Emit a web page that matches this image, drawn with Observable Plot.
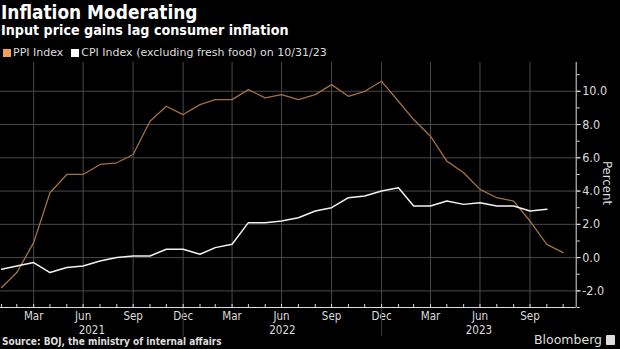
<!DOCTYPE html>
<html>
<head>
<meta charset="utf-8">
<script src="https://cdn.jsdelivr.net/npm/d3@7"></script>
<script src="https://cdn.jsdelivr.net/npm/@observablehq/plot@0.6"></script>
<style>
  html, body { margin: 0; padding: 0; background: #000; }
  #wrap { position: relative; width: 620px; height: 349px; overflow: hidden; background: #000; color: #fff; font-family: "DejaVu Sans", sans-serif; }
  .cond { font-family: "DejaVu Sans Condensed", "DejaVu Sans", sans-serif; font-stretch: condensed; }
  #title { position: absolute; left: 1px; top: 1px; font-size: 18.9px; font-weight: bold; white-space: nowrap; }
  #subtitle { position: absolute; left: 1px; top: 22px; font-size: 14.2px; font-weight: bold; white-space: nowrap; }
  #legend { position: absolute; left: 3px; top: 46px; font-size: 11px; color: #ddd; white-space: nowrap; display: flex; align-items: center; }
  .sw { display: inline-block; width: 8px; height: 8px; margin-right: 2px; }
  .item { display: inline-flex; align-items: center; margin-right: 8px; }
  #chart { position: absolute; left: 0; top: 58px; }
  #ylabel { position: absolute; left: 607px; top: 183px; font-size: 13px; color: #ddd; transform: translate(-50%, -50%) rotate(90deg); white-space: nowrap; }
  #source { position: absolute; left: 2px; top: 336px; font-size: 10px; font-weight: bold; color: #ddd; white-space: nowrap; }
  #brand { position: absolute; right: 5px; top: 332px; font-size: 12.5px; color: #ddd; white-space: nowrap; display: flex; align-items: center; }
  #brand .logo { display: inline-block; width: 9px; height: 10px; background: #ddd; margin-left: 4px; border-radius: 1px; }
</style>
</head>
<body>
<div id="wrap">
  <div id="title" class="cond">Inflation Moderating</div>
  <div id="subtitle" class="cond">Input price gains lag consumer inflation</div>
  <div id="legend"></div>
  <div id="chart"></div>
  <div id="ylabel" class="cond">Percent</div>
  <div id="source" class="cond">Source: BOJ, the ministry of internal affairs</div>
  <div id="brand">Bloomberg<span class="logo"></span></div>
</div>
<script>
// ---- data ----
const ppiMonths = ["2021-01","2021-02","2021-03","2021-04","2021-05","2021-06","2021-07","2021-08","2021-09","2021-10","2021-11","2021-12",
  "2022-01","2022-02","2022-03","2022-04","2022-05","2022-06","2022-07","2022-08","2022-09","2022-10","2022-11","2022-12",
  "2023-01","2023-02","2023-03","2023-04","2023-05","2023-06","2023-07","2023-08","2023-09","2023-10","2023-11"];
const ppiValues = [-1.8, -0.9, 0.9, 3.9, 5.0, 5.0, 5.6, 5.7, 6.2, 8.2, 9.1, 8.6,
  9.2, 9.5, 9.5, 10.1, 9.6, 9.8, 9.5, 9.8, 10.4, 9.7, 10.0, 10.6,
  9.4, 8.3, 7.3, 5.8, 5.1, 4.1, 3.6, 3.4, 2.2, 0.8, 0.3];
const cpiMonths = ppiMonths.slice(0, 34);
const cpiValues = [-0.7, -0.5, -0.3, -0.9, -0.6, -0.5, -0.2, 0.0, 0.1, 0.1, 0.5, 0.5,
  0.2, 0.6, 0.8, 2.1, 2.1, 2.2, 2.4, 2.8, 3.0, 3.6, 3.7, 4.0,
  4.2, 3.1, 3.1, 3.4, 3.2, 3.3, 3.1, 3.1, 2.8, 2.9];
const seriesNames = ["PPI Index", "CPI Index (excluding fresh food) on 10/31/23"];
const seriesColors = ["#a4713f", "#f2f2f2"];
const legendColors = ["#f5a050", "#ffffff"];
const yTicks = [-2, 0, 2, 4, 6, 8, 10];
const xStart = "2021-01-29", xEnd = "2023-12-24";
const yMin = -3, yMax = 11.73;

// month-end dates
const monthEnd = m => d3.utcDay.offset(d3.utcMonth.offset(new Date(m + "-01T00:00:00Z"), 1), -1);
const ppi = ppiMonths.map((m, i) => ({date: monthEnd(m), value: ppiValues[i], series: seriesNames[0]}));
const cpi = cpiMonths.map((m, i) => ({date: monthEnd(m), value: cpiValues[i], series: seriesNames[1]}));

const d0 = new Date(xStart + "T00:00:00Z"), d1 = new Date(xEnd + "T00:00:00Z");
const allMonthEnds = d3.utcMonth.range(d3.utcMonth.floor(d0), d1).map(d => d3.utcDay.offset(d3.utcMonth.offset(d, 1), -1)).filter(d => d >= d0 && d <= d1);
const quarterEnds = allMonthEnds.filter(d => [2, 5, 8, 11].includes(d.getUTCMonth()));
const yearEnds = allMonthEnds.filter(d => d.getUTCMonth() === 11);
const years = [2021, 2022, 2023];
const yearLabels = years.map(y => {
  const a = Math.max(+d0, +new Date(Date.UTC(y - 1, 11, 31)));
  const b = Math.min(+d1, +new Date(Date.UTC(y, 11, 31)));
  return {date: new Date((a + b) / 2), text: String(y)};
});

// legend
const legend = document.getElementById("legend");
seriesNames.forEach((n, i) => {
  const s = document.createElement("span");
  s.className = "item";
  s.innerHTML = `<span class="sw" style="background:${legendColors[i]}"></span>${n}`;
  legend.appendChild(s);
});

const axisColor = "#dcdcdc";
const fontCond = "DejaVu Sans Condensed, DejaVu Sans, sans-serif";
const chart = Plot.plot({
  width: 620,
  height: 278,
  marginLeft: 0,
  marginRight: 44.3,
  marginTop: 4,
  marginBottom: 29,
  style: {background: "#000", color: axisColor, fontFamily: fontCond, fontSize: "11px", fontStretch: "condensed"},
  x: {type: "utc", domain: [d0, d1]},
  y: {domain: [yMin, yMax]},
  marks: [
    Plot.gridY(yTicks, {stroke: "#4a4a4a", strokeOpacity: 1}),
    Plot.gridX(quarterEnds, {stroke: "#4a4a4a", strokeOpacity: 1}),
    Plot.axisY(d3.range(-3, 12, 1), {anchor: "right", tickSize: 3, text: null, stroke: axisColor, label: null}),
    Plot.axisY(yTicks, {anchor: "right", tickSize: 4, tickPadding: 2, tickFormat: d => d.toFixed(1), fill: axisColor, stroke: axisColor, label: null, fontSize: 12.5}),
    Plot.axisX(allMonthEnds, {tickSize: -3, text: null, stroke: axisColor, label: null}),
    Plot.axisX(quarterEnds, {tickSize: 0, tickPadding: 4, tickFormat: d3.utcFormat("%b"), fill: axisColor, label: null, fontSize: 11.5}),
    Plot.axisX(yearEnds, {tickSize: 29, text: null, stroke: "#3a3a3a", label: null}),
    Plot.text(yearLabels, {x: "date", y: yMin, text: "text", dy: 23, fill: axisColor, fontSize: 11.5}),
    Plot.ruleY([yMin], {stroke: axisColor}),
    Plot.ruleX([d1], {stroke: axisColor}),
    Plot.line(ppi, {x: "date", y: "value", stroke: seriesColors[0], strokeWidth: 1.3}),
    Plot.line(cpi, {x: "date", y: "value", stroke: seriesColors[1], strokeWidth: 1.5})
  ]
});
document.getElementById("chart").appendChild(chart);
</script>
</body>
</html>
